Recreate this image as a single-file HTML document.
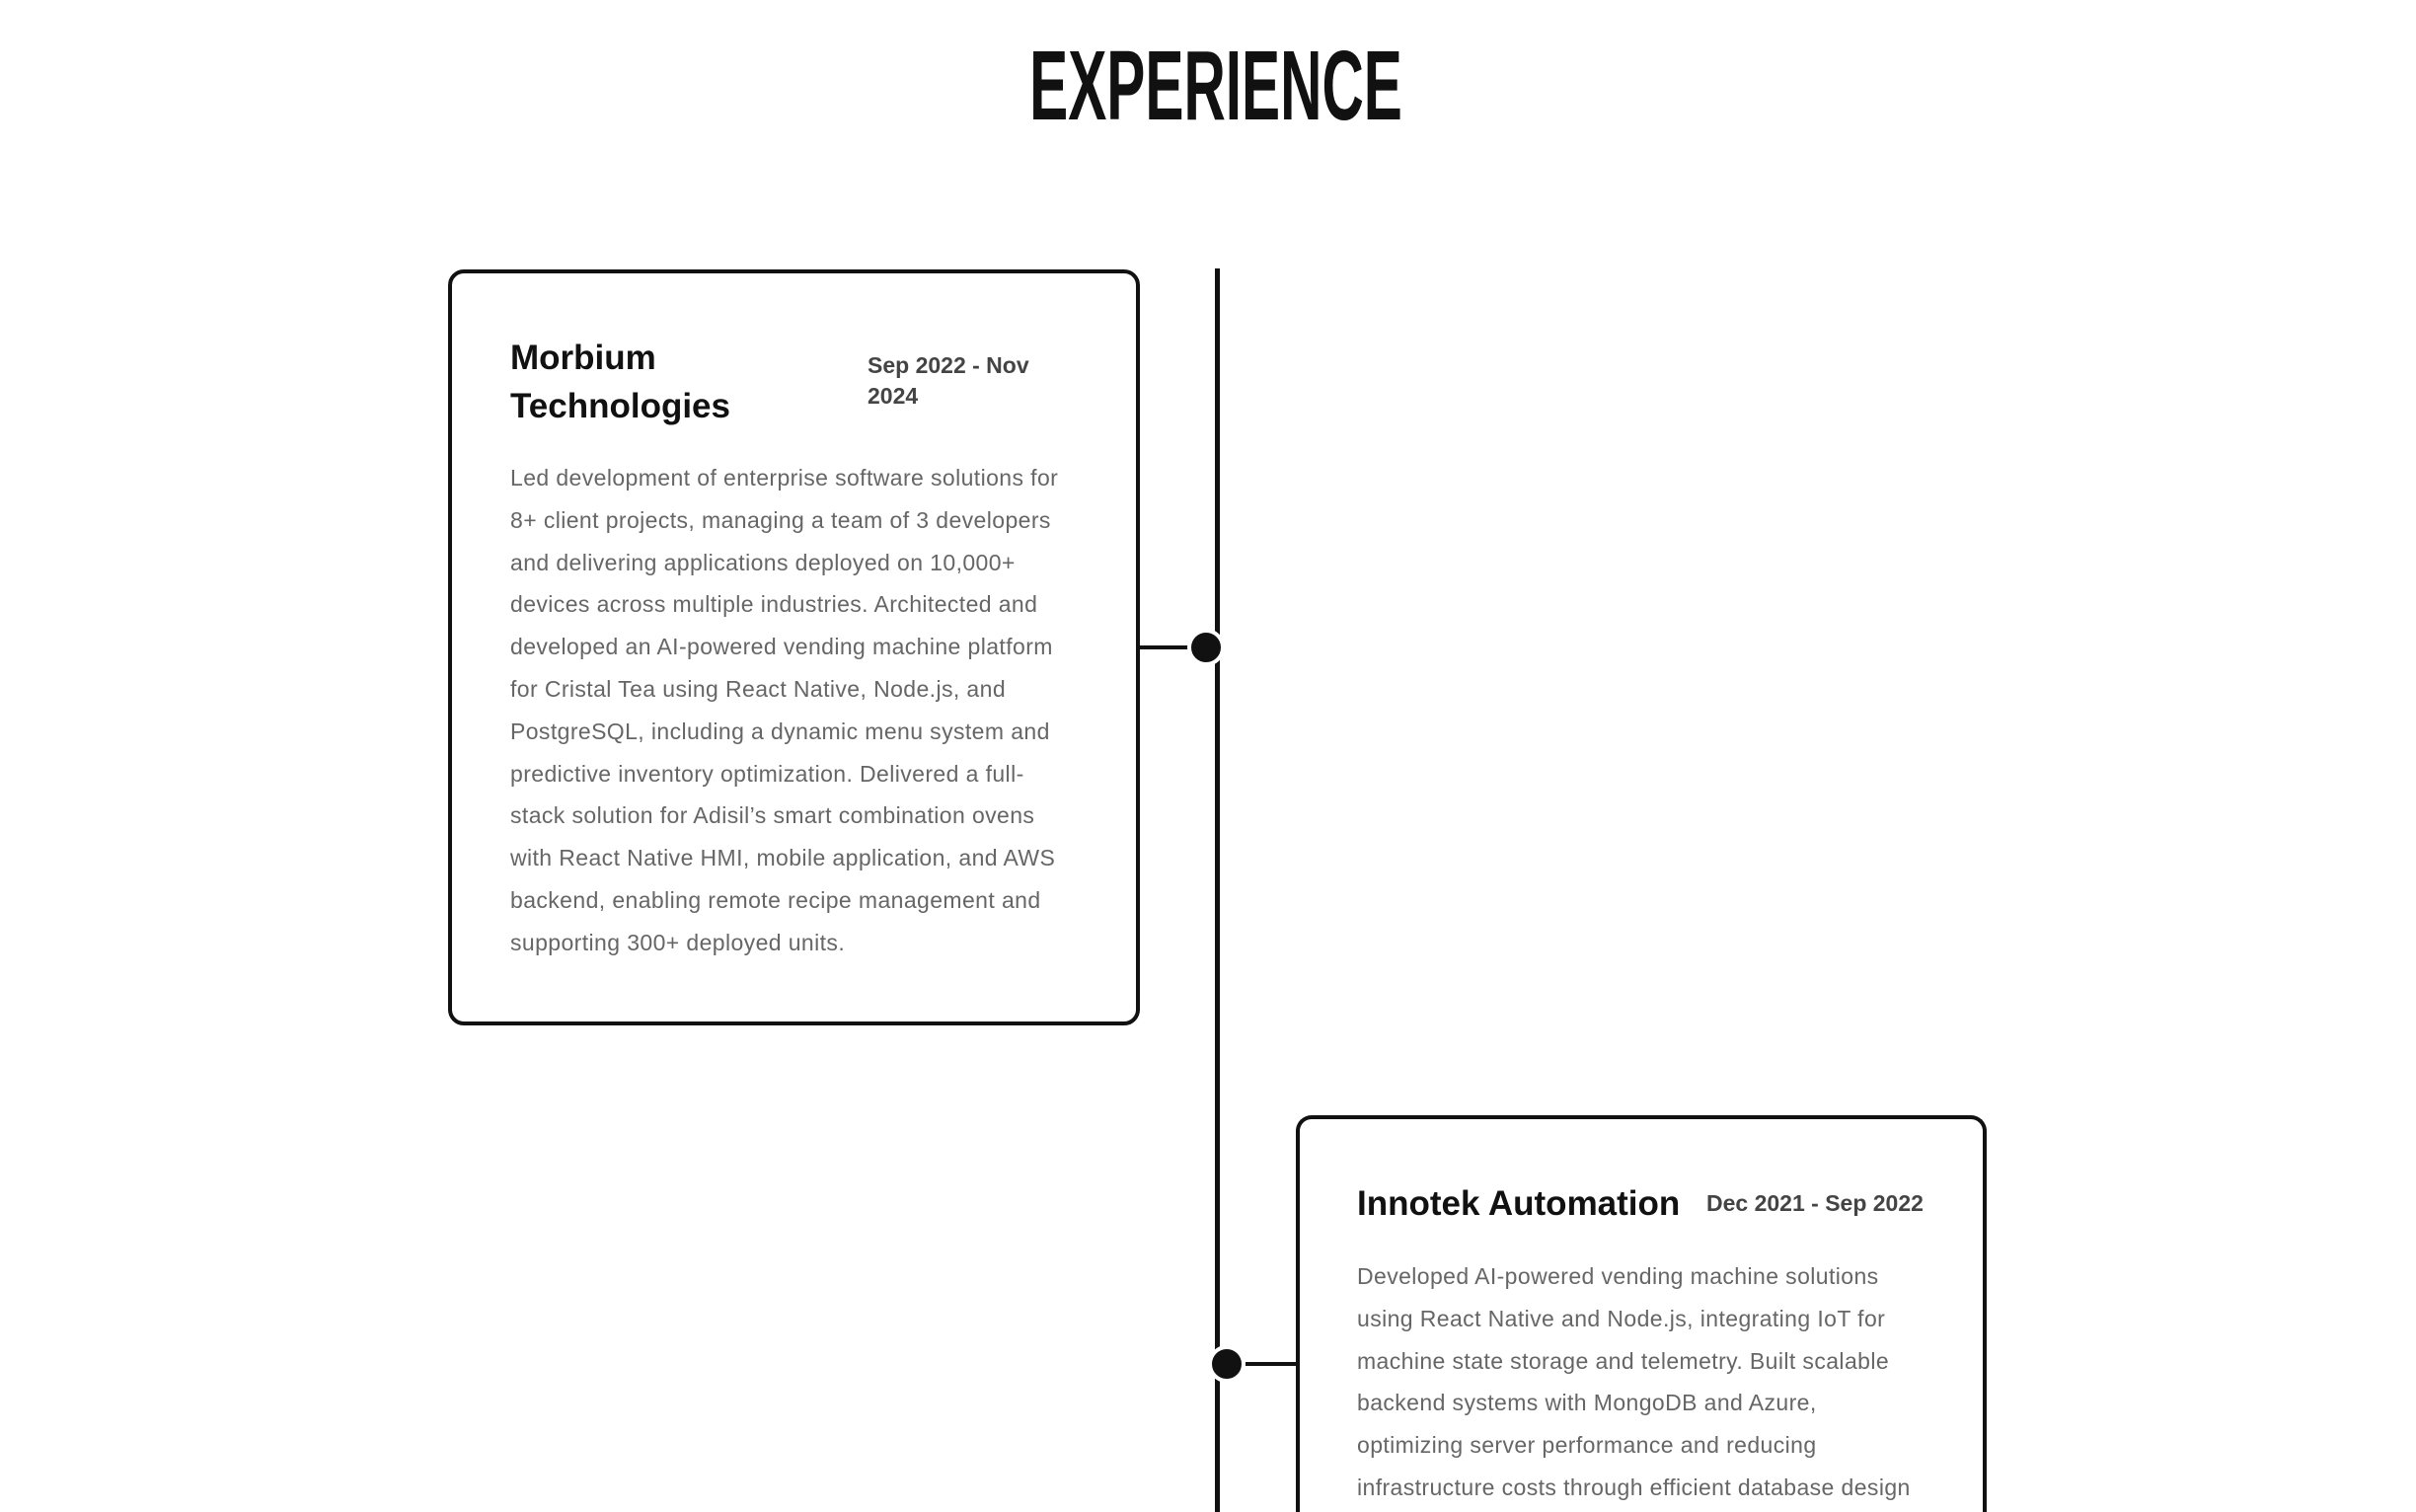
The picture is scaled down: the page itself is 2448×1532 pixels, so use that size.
<!DOCTYPE html>
<html style="width:2448px;height:1532px;overflow:hidden"><head><meta charset="utf-8"><style>
html,body{margin:0;padding:0;background:#fff;}
body{width:2448px;height:1532px;position:relative;overflow:hidden;font-family:"Liberation Sans",sans-serif;}
.a{position:absolute;}
.title{left:0;width:2464px;top:37px;text-align:center;font-size:100px;line-height:100px;font-weight:bold;color:#111;transform:scaleX(0.586);transform-origin:1232px 0;}
.card{border:4px solid #111;border-radius:16px;box-sizing:border-box;background:#fff;}
.h{font-weight:bold;color:#111;font-size:35px;line-height:49px;white-space:nowrap;}
.d{font-weight:bold;color:#444;font-size:23px;line-height:31px;white-space:nowrap;}
.b{color:#666;font-size:23px;line-height:42.8px;white-space:nowrap;letter-spacing:0.4px;}
.dot{width:30px;height:30px;border-radius:50%;background:#111;border:4px solid #fff;}
</style></head><body>
<div class="a title">EXPERIENCE</div>
<div class="a" style="left:1231px;top:272px;width:5px;height:1260px;background:#111"></div>
<div class="a card" style="left:454px;top:273px;width:701px;height:766px"></div>
<div class="a" style="left:1154px;top:654px;width:60px;height:4px;background:#111"></div>
<div class="a dot" style="left:1203px;top:637px"></div>
<div class="a h" style="left:517px;top:338px">Morbium<br>Technologies</div>
<div class="a d" style="left:879px;top:355px">Sep 2022 - Nov<br>2024</div>
<div class="a b" style="left:517px;top:463px">Led development of enterprise software solutions for<br>8+ client projects, managing a team of 3 developers<br>and delivering applications deployed on 10,000+<br>devices across multiple industries. Architected and<br>developed an AI-powered vending machine platform<br>for Cristal Tea using React Native, Node.js, and<br>PostgreSQL, including a dynamic menu system and<br>predictive inventory optimization. Delivered a full-<br>stack solution for Adisil’s smart combination ovens<br>with React Native HMI, mobile application, and AWS<br>backend, enabling remote recipe management and<br>supporting 300+ deployed units.</div>
<div class="a card" style="left:1313px;top:1130px;width:700px;height:402px;border-bottom:none;border-bottom-left-radius:0;border-bottom-right-radius:0"></div>
<div class="a" style="left:1262px;top:1380px;width:52px;height:4px;background:#111"></div>
<div class="a dot" style="left:1224px;top:1363px"></div>
<div class="a h" style="left:1375px;top:1195px">Innotek Automation</div>
<div class="a d" style="left:1729px;top:1204px">Dec 2021 - Sep 2022</div>
<div class="a b" style="left:1375px;top:1272px">Developed AI-powered vending machine solutions<br>using React Native and Node.js, integrating IoT for<br>machine state storage and telemetry. Built scalable<br>backend systems with MongoDB and Azure,<br>optimizing server performance and reducing<br>infrastructure costs through efficient database design</div>
</body></html>
